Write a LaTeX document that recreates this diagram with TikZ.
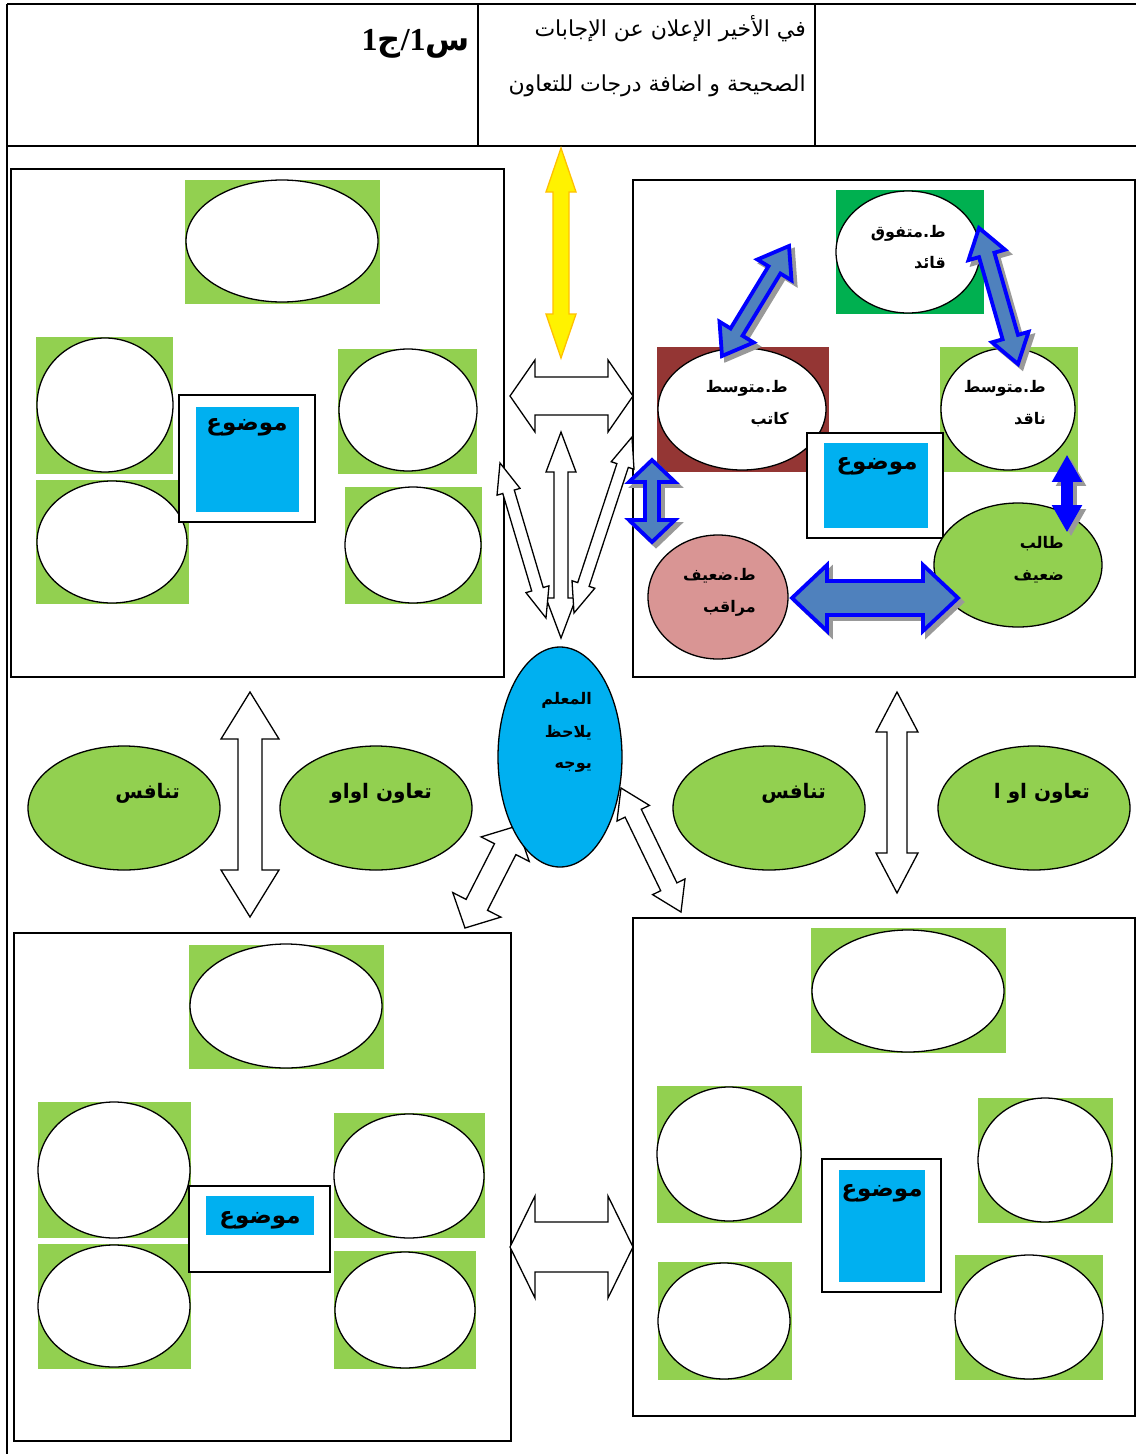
\documentclass[tikz,border=0pt]{standalone}
\usepackage{fontspec}
\usetikzlibrary{shapes.geometric,calc}
\newfontfamily\arf[Script=Arabic]{DejaVu Sans}
\newfontfamily\numf{Liberation Serif}
\TeXXeTstate=1
\definecolor{lg}{HTML}{92D050}
\definecolor{dg}{HTML}{00B050}
\definecolor{brn}{HTML}{943634}
\definecolor{pk}{HTML}{D99594}
\definecolor{sky}{HTML}{00B0F0}
\definecolor{steel}{HTML}{4F81BD}
\definecolor{gold}{HTML}{FFC000}
% #1 path style, #2 pre-rotation options, #3 from, #4 to, #5 shaft half, #6 head half, #7 head length
\newcommand\dblarr[7]{%
 \path let \p1=(#3), \p2=(#4) in \pgfextra{%
   \pgfmathparse{atan2(\y2-\y1,\x2-\x1)}\xdef\dA{\pgfmathresult}%
   \pgfmathparse{veclen(\x2-\x1,\y2-\y1)}\xdef\dL{\pgfmathresult}};
 \begin{scope}[shift={(#3)},#2,rotate=\dA]
  \path[#1] (0,0) -- (#7,#6) -- (#7,#5) -- (\dL-#7,#5) -- (\dL-#7,#6) -- (\dL,0)
   -- (\dL-#7,-#6) -- (\dL-#7,-#5) -- (#7,-#5) -- (#7,-#6) -- cycle;
 \end{scope}}
\tikzset{
 rule/.style={draw=black,line width=1.8pt},
 frame/.style={draw=black,line width=1.6pt},
 seat/.style={ellipse,draw=black,line width=1.3pt,fill=white,inner sep=0pt},
 gell/.style={ellipse,draw=black,line width=1.3pt,fill=lg,inner sep=0pt,minimum width=192,minimum height=124},
 topicbox/.style={draw=black,line width=1.4pt,fill=white},
 lab/.style={anchor=base east,inner sep=0pt,font=\arf\bfseries\fontsize{16}{18}\selectfont},
 biglab/.style={anchor=base,inner sep=0pt,font=\arf\bfseries\fontsize{23}{26}\selectfont},
 midlab/.style={anchor=base east,inner sep=0pt,font=\arf\bfseries\fontsize{20}{22}\selectfont},
 hdr/.style={anchor=base east,inner sep=0pt,font=\arf\fontsize{22}{24}\selectfont},
 whitearr/.style={fill=white,draw=black,line width=1.3pt,line join=miter},
 bluearr/.style={fill=steel,draw=blue,line width=3.8pt,line join=miter},
 solidblue/.style={fill=blue,draw=blue,line width=3.8pt,line join=miter},
 shadarr/.style={fill=black!40,draw=black!40,line width=3.8pt,line join=miter},
 yellowarr/.style={fill=yellow,draw=gold,line width=1.3pt,line join=miter},
}
\begin{document}
\begin{tikzpicture}[x=1pt,y=-1pt]
\useasboundingbox (0,0) rectangle (1136,1454);
\fill[white] (0,0) rectangle (1136,1454);

% header table
\draw[rule] (7,4) -- (1136,4);
\draw[rule] (7,146) -- (1136,146);
\draw[rule] (7,4) -- (7,1454);
\draw[rule] (478,4) -- (478,146);
\draw[rule] (815,4) -- (815,146);
\node[anchor=base east,inner sep=0pt,font=\fontsize{32}{34}\selectfont] (q) at (470,50)
  {\hbox{\numf\bfseries 1}\hbox{\arf\bfseries ج}\hbox{\numf\bfseries /}\hbox{\numf\bfseries 1}\hbox{\arf\bfseries س}};
\node[hdr] (h1) at (806,36) {\beginR في الأخير الإعلان عن الإجابات\endR};
\node[hdr] (h2) at (806,91) {\beginR الصحيحة و اضافة درجات للتعاون\endR};

% quadrant frames
\draw[frame] (11,169) rectangle (504,677);
\draw[frame] (633,180) rectangle (1135,677);
\draw[frame] (14,933) rectangle (511,1441);
\draw[frame] (633,918) rectangle (1135,1416);

% ---------- top-left group
\fill[lg] (185,180) rectangle (380,304);
\node[seat,minimum width=192,minimum height=122] (tl1) at (282,241) {};
\fill[lg] (36,337) rectangle (173,474);
\node[seat,minimum width=136,minimum height=134] (tl2) at (105,405) {};
\fill[lg] (36,480) rectangle (189,604);
\node[seat,minimum width=150,minimum height=122] (tl3) at (112,542) {};
\fill[lg] (338,349) rectangle (477,474);
\node[seat,minimum width=138,minimum height=122] (tl4) at (408,410) {};
\fill[lg] (345,487) rectangle (482,604);
\node[seat,minimum width=136,minimum height=116] (tl5) at (413,545) {};
\draw[topicbox] (179,395) rectangle (315,522);
\fill[sky] (196,407) rectangle (299,512);
\node[biglab] (tlt) at (247,430) {\beginR موضوع\endR};

% ---------- top-right group
\fill[dg] (836,190) rectangle (984,314);
\node[seat,minimum width=144,minimum height=122] (lead) at (908,252) {};
\node[lab] at (946,237) {\beginR ط.متفوق\endR};
\node[lab] at (946,268) {\beginR قائد\endR};
\fill[brn] (657,347) rectangle (829,472);
\node[seat,minimum width=168,minimum height=122] (writer) at (742,409) {};
\node[lab] at (788,392) {\beginR ط.متوسط\endR};
\node[lab] at (789,424) {\beginR كاتب\endR};
\fill[lg] (940,347) rectangle (1078,472);
\node[seat,minimum width=134,minimum height=122] (critic) at (1008,409) {};
\node[lab] at (1046,392) {\beginR ط.متوسط\endR};
\node[lab] at (1046,424) {\beginR ناقد\endR};
\draw[topicbox] (807,433) rectangle (943,538);
\fill[sky] (824,443) rectangle (928,528);
\node[biglab] (trt) at (877,469) {\beginR موضوع\endR};
\node[ellipse,draw=black,line width=1.3pt,fill=lg,inner sep=0pt,minimum width=168,minimum height=124] (weak) at (1018,565) {};
\node[lab] at (1064,548) {\beginR طالب\endR};
\node[lab] at (1064,580) {\beginR ضعيف\endR};
\node[ellipse,draw=black,line width=1.3pt,fill=pk,inner sep=0pt,minimum width=140,minimum height=124] (watch) at (718,597) {};
\node[lab] at (756,580) {\beginR ط.ضعيف\endR};
\node[lab] at (756,612) {\beginR مراقب\endR};

% ---------- bottom-left group
\fill[lg] (189,945) rectangle (384,1069);
\node[seat,minimum width=192,minimum height=124] (bl1) at (286,1006) {};
\fill[lg] (38,1102) rectangle (191,1238);
\node[seat,minimum width=152,minimum height=136] (bl2) at (114,1170) {};
\fill[lg] (38,1244) rectangle (191,1369);
\node[seat,minimum width=152,minimum height=122] (bl3) at (114,1306) {};
\fill[lg] (334,1113) rectangle (485,1238);
\node[seat,minimum width=150,minimum height=124] (bl4) at (409,1176) {};
\fill[lg] (334,1251) rectangle (476,1369);
\node[seat,minimum width=140,minimum height=116] (bl5) at (405,1310) {};
\draw[topicbox] (189,1186) rectangle (330,1272);
\fill[sky] (206,1196) rectangle (314,1235);
\node[biglab] (blt) at (260,1223) {\beginR موضوع\endR};

% ---------- bottom-right group
\fill[lg] (811,928) rectangle (1006,1053);
\node[seat,minimum width=192,minimum height=122] (br1) at (908,991) {};
\fill[lg] (657,1086) rectangle (802,1223);
\node[seat,minimum width=144,minimum height=134] (br2) at (729,1154) {};
\fill[lg] (978,1098) rectangle (1113,1223);
\node[seat,minimum width=134,minimum height=124] (br3) at (1045,1160) {};
\fill[lg] (658,1262) rectangle (792,1380);
\node[seat,minimum width=132,minimum height=116] (br4) at (724,1321) {};
\fill[lg] (955,1255) rectangle (1103,1380);
\node[seat,minimum width=148,minimum height=124] (br5) at (1029,1317) {};
\draw[topicbox] (822,1159) rectangle (941,1292);
\fill[sky] (839,1170) rectangle (925,1282);
\node[biglab] (brt) at (882,1196) {\beginR موضوع\endR};

% ---------- middle row ellipses
\node[gell] (comp1) at (124,808) {};
\node[midlab] at (180,798) {\beginR تنافس\endR};
\node[gell] (coop1) at (376,808) {};
\node[midlab] at (432,798) {\beginR تعاون اواو\endR};
\node[gell] (comp2) at (769,808) {};
\node[midlab] at (826,798) {\beginR تنافس\endR};
\node[gell] (coop2) at (1034,808) {};
\node[midlab] at (1090,798) {\beginR تعاون او ا\endR};

% ---------- connector end points
\coordinate (y1) at (561,148);  \coordinate (y2) at (561,358);
\coordinate (h1a) at (510,396); \coordinate (h1b) at (633,396);
\coordinate (v1a) at (561,432); \coordinate (v1b) at (561,638);
\coordinate (d1a) at (500,463); \coordinate (d1b) at (546,618);
\coordinate (d2a) at (632,437); \coordinate (d2b) at (574,613);
\coordinate (d3a) at (517,826); \coordinate (d3b) at (465,928);
\coordinate (d4a) at (621,788); \coordinate (d4b) at (681,912);
\coordinate (vLa) at (250,692); \coordinate (vLb) at (250,917);
\coordinate (vRa) at (897,692); \coordinate (vRb) at (897,893);
\coordinate (h2a) at (510,1247); \coordinate (h2b) at (633,1247);

% white / yellow arrows
\dblarr{yellowarr}{}{y1}{y2}{8}{15}{44}
\dblarr{whitearr}{}{h1a}{h1b}{19}{36}{25}
\dblarr{whitearr}{}{v1a}{v1b}{7}{15}{40}
\dblarr{whitearr}{}{d1a}{d1b}{6}{12}{30}
\dblarr{whitearr}{}{d2a}{d2b}{6}{12}{30}
\dblarr{whitearr}{}{d3a}{d3b}{12}{27}{26}
\dblarr{whitearr}{}{d4a}{d4b}{9}{18}{28}
\dblarr{whitearr}{}{vLa}{vLb}{12}{29}{47}
\dblarr{whitearr}{}{vRa}{vRb}{10}{21}{40}
\dblarr{whitearr}{}{h2a}{h2b}{25}{51}{25}

% teacher
\node[ellipse,draw=black,line width=1.3pt,fill=sky,inner sep=0pt,minimum width=124,minimum height=220] (teacher) at (560,757) {};
\node[lab] at (592,704) {\beginR المعلم\endR};
\node[lab] at (592,737) {\beginR يلاحظ\endR};
\node[lab] at (592,768) {\beginR يوجه\endR};

% blue arrows inside the group
\coordinate (b1a) at (722,356); \coordinate (b1b) at (789,246);
\coordinate (b2a) at (979,228); \coordinate (b2b) at (1018,364);
\coordinate (b3a) at (652,460); \coordinate (b3b) at (652,542);
\coordinate (b4a) at (1067,459); \coordinate (b4b) at (1067,528);
\coordinate (b5a) at (792,598); \coordinate (b5b) at (958,598);
\foreach \a/\b/\s/\h/\l/\st in {b1a/b1b/7/20/28/bluearr, b2a/b2b/8/19/28/bluearr, b3a/b3b/7/23/22/bluearr, b4a/b4b/4/12/21/solidblue, b5a/b5b/17/33/35/bluearr}{
  \dblarr{shadarr}{xshift=4pt,yshift=-4pt}{\a}{\b}{\s}{\h}{\l}
  \dblarr{\st}{}{\a}{\b}{\s}{\h}{\l}
}
\end{tikzpicture}
\end{document}
